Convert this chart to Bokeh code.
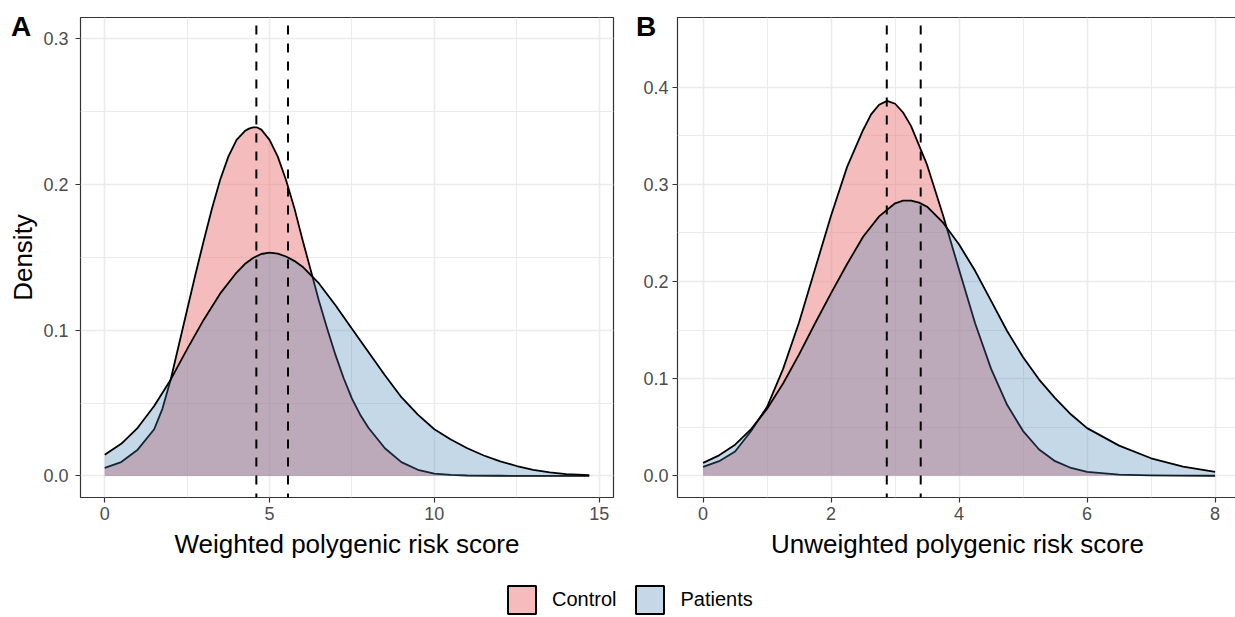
from bokeh.plotting import figure
from bokeh.models import Range1d, FixedTicker, NumeralTickFormatter, Legend, LegendItem, Div
from bokeh.layouts import column, row
from bokeh.embed import file_html
from bokeh.resources import INLINE

# ---------------- data ----------------
groups = ["Control", "Patients"]
panel_tags = ["A", "B"]

# Panel A: weighted polygenic risk score
wa_ctrl_x = [0, 0.5, 1.0, 1.5, 1.75, 2.0, 2.25, 2.5, 2.75, 3.0, 3.25, 3.5, 3.75, 4.0, 4.25,
             4.375, 4.5, 4.625, 4.75, 5.0, 5.25, 5.5, 5.75, 6.0, 6.25, 6.5, 6.75, 7.0, 7.25,
             7.5, 7.75, 8.0, 8.5, 9.0, 9.5, 10.0, 10.5, 11.0, 12.0, 13.0, 14.0, 14.7]
wa_ctrl_y = [0.0055, 0.0095, 0.018, 0.032, 0.046, 0.066, 0.090, 0.114, 0.138, 0.161, 0.183,
             0.203, 0.219, 0.2305, 0.2365, 0.2382, 0.2391, 0.2390, 0.2375, 0.2305, 0.219, 0.203,
             0.184, 0.162, 0.141, 0.120, 0.101, 0.083, 0.067, 0.053, 0.042, 0.033, 0.019,
             0.0095, 0.0042, 0.0016, 0.0007, 0.0003, 0.0001, 0.0, 0.0, 0.0]
wa_pat_x = [0, 0.5, 1.0, 1.5, 2.0, 2.5, 3.0, 3.5, 4.0, 4.25, 4.5, 4.75, 5.0, 5.25, 5.5, 5.75,
            6.0, 6.5, 7.0, 7.5, 8.0, 8.5, 9.0, 9.5, 10.0, 10.5, 11.0, 11.5, 12.0, 12.5, 13.0,
            13.5, 14.0, 14.7]
wa_pat_y = [0.0146, 0.022, 0.033, 0.048, 0.066, 0.087, 0.107, 0.125, 0.1395, 0.1453, 0.1495,
            0.1522, 0.1531, 0.1525, 0.1505, 0.1475, 0.1435, 0.132, 0.117, 0.101, 0.085, 0.069,
            0.054, 0.042, 0.032, 0.025, 0.019, 0.014, 0.010, 0.0068, 0.0042, 0.0024, 0.0012,
            0.0005]
wa_means = [4.60, 5.56]

# Panel B: unweighted polygenic risk score
ua_ctrl_x = [0, 0.25, 0.5, 0.75, 1.0, 1.25, 1.5, 1.75, 2.0, 2.25, 2.5, 2.625, 2.75, 2.875, 3.0,
             3.125, 3.25, 3.5, 3.75, 4.0, 4.25, 4.5, 4.75, 5.0, 5.25, 5.5, 5.75, 6.0, 6.5, 7.0,
             7.5, 8.0]
ua_ctrl_y = [0.0092, 0.015, 0.025, 0.046, 0.071, 0.110, 0.158, 0.213, 0.268, 0.318, 0.356,
             0.372, 0.382, 0.386, 0.383, 0.374, 0.360, 0.320, 0.268, 0.212, 0.157, 0.110, 0.073,
             0.046, 0.027, 0.015, 0.008, 0.004, 0.0012, 0.0003, 0.0001, 0.0]
ua_pat_x = [0, 0.25, 0.5, 0.75, 1.0, 1.25, 1.5, 1.75, 2.0, 2.25, 2.5, 2.75, 3.0, 3.125, 3.25,
            3.375, 3.5, 3.75, 4.0, 4.25, 4.5, 4.75, 5.0, 5.25, 5.5, 5.75, 6.0, 6.5, 7.0, 7.5,
            8.0]
ua_pat_y = [0.0133, 0.021, 0.032, 0.048, 0.069, 0.095, 0.125, 0.157, 0.188, 0.218, 0.246,
            0.267, 0.2805, 0.2832, 0.2833, 0.2812, 0.2770, 0.2605, 0.238, 0.211, 0.180, 0.149,
            0.122, 0.099, 0.080, 0.063, 0.049, 0.031, 0.018, 0.0095, 0.004]
ua_means = [2.87, 3.40]

# ticks
a_xticks = [0, 5, 10, 15]
a_xminor = [2.5, 7.5, 12.5]
a_yticks = [0.0, 0.1, 0.2, 0.3]
a_yminor = [0.05, 0.15, 0.25]
b_xticks = [0, 2, 4, 6, 8]
b_xminor = [1, 3, 5, 7]
b_yticks = [0.0, 0.1, 0.2, 0.3, 0.4]
b_yminor = [0.05, 0.15, 0.25, 0.35]

# ---------------- styling ----------------
FONT = "Liberation Sans"
CTRL_FILL, CTRL_ALPHA = "#EA7A7A", 0.5
PAT_FILL, PAT_ALPHA = "#3C7FB4", 0.3
GRID = "#EBEBEB"
DARK = "#333333"


def make_panel(xr, yr, xt, xm, yt, ym, ctrl, pat, means, xlabel, ylabel,
               left, right, frame_w, ystandoff):
    p = figure(frame_width=frame_w, frame_height=480,
               x_range=Range1d(*xr), y_range=Range1d(*yr),
               output_backend="svg", toolbar_location=None,
               min_border_left=left, min_border_right=right,
               min_border_top=17, min_border_bottom=75)
    p.background_fill_color = "white"
    p.border_fill_color = "white"
    p.outline_line_color = DARK
    p.outline_line_width = 1.2

    p.xaxis.ticker = FixedTicker(ticks=xt, minor_ticks=xm)
    p.yaxis.ticker = FixedTicker(ticks=yt, minor_ticks=ym)
    p.yaxis.formatter = NumeralTickFormatter(format="0.0")
    for ax in (p.xaxis, p.yaxis):
        ax.axis_line_color = None
        ax.major_tick_line_color = DARK
        ax.major_tick_line_width = 1.2
        ax.major_tick_out = 5
        ax.major_tick_in = 0
        ax.minor_tick_line_color = None
        ax.major_label_text_font = FONT
        ax.major_label_text_font_size = "18px"
        ax.major_label_text_color = "#4D4D4D"
        ax.axis_label_text_font = FONT
        ax.axis_label_text_font_size = "26px"
        ax.axis_label_text_font_style = "normal"
        ax.axis_label_text_color = "black"
    p.xaxis.major_label_standoff = 4
    p.yaxis.major_label_standoff = ystandoff
    p.xaxis.axis_label_standoff = 6
    p.yaxis.axis_label_standoff = 2
    p.xaxis.axis_label = xlabel
    if ylabel:
        p.yaxis.axis_label = ylabel

    for g in (p.xgrid, p.ygrid):
        g.grid_line_color = GRID
        g.grid_line_width = 1.6
        g.minor_grid_line_color = GRID
        g.minor_grid_line_width = 1.0

    (cx, cy), (px, py) = ctrl, pat
    p.varea(x=cx, y1=[0] * len(cx), y2=cy, fill_color=CTRL_FILL, fill_alpha=CTRL_ALPHA)
    p.line(cx, cy, line_color="black", line_width=1.8, line_join="round")
    p.varea(x=px, y1=[0] * len(px), y2=py, fill_color=PAT_FILL, fill_alpha=PAT_ALPHA)
    p.line(px, py, line_color="black", line_width=1.8, line_join="round")

    p.segment(x0=means, y0=[yr[1]] * len(means), x1=means, y1=[yr[0]] * len(means),
              line_color="black", line_width=2, line_dash="9 9", line_dash_offset=10)
    return p


pA = make_panel((-0.735, 15.435), (-0.0148, 0.3144), a_xticks, a_xminor, a_yticks, a_yminor,
                (wa_ctrl_x, wa_ctrl_y), (wa_pat_x, wa_pat_y), wa_means,
                "Weighted polygenic risk score", "Density", 80, 27, 533, 7)
pB = make_panel((-0.4, 8.35), (-0.0224, 0.4718), b_xticks, b_xminor, b_yticks, b_yminor,
                (ua_ctrl_x, ua_ctrl_y), (ua_pat_x, ua_pat_y), ua_means,
                "Unweighted polygenic risk score", None, 35, 0, 560, 4)

# ---------------- legend strip ----------------
pL = figure(width=1235, height=45, x_range=Range1d(0, 1), y_range=Range1d(0, 1),
            x_axis_type=None, y_axis_type=None, output_backend="svg",
            toolbar_location=None, min_border=0)
pL.outline_line_color = None
pL.grid.visible = False
# legend proxies placed outside the visible range
rc = pL.quad(left=[-3], right=[-2], top=[-2], bottom=[-3], fill_color=CTRL_FILL,
             fill_alpha=CTRL_ALPHA, line_color="black", line_width=2)
rp = pL.quad(left=[-3], right=[-2], top=[-2], bottom=[-3], fill_color=PAT_FILL,
             fill_alpha=PAT_ALPHA, line_color="black", line_width=2)
leg = Legend(items=[LegendItem(label=groups[0], renderers=[rc]),
                    LegendItem(label=groups[1], renderers=[rp])],
             orientation="horizontal", location=(504, 0),
             glyph_width=35, glyph_height=35, label_standoff=13, spacing=16,
             padding=0, margin=0, border_line_color=None, background_fill_alpha=0,
             label_text_font=FONT, label_text_font_size="20px", label_text_color="black")
pL.add_layout(leg)

# ---------------- panel tags (overlaid text) ----------------
def tag_div(text, left):
    return Div(text=text, width=30, height=30,
               styles={"position": "absolute", "left": f"{left}px", "top": "13px",
                       "font-family": FONT, "font-size": "28px", "font-weight": "bold",
                       "color": "black", "line-height": "1", "z-index": "10",
                       "margin": "0", "padding": "0"})

divA = tag_div(panel_tags[0], 11)
divB = tag_div(panel_tags[1], 636)

layout = column(row(pA, pB), pL, divA, divB)
open("out.html", "w").write(file_html(layout, INLINE))
